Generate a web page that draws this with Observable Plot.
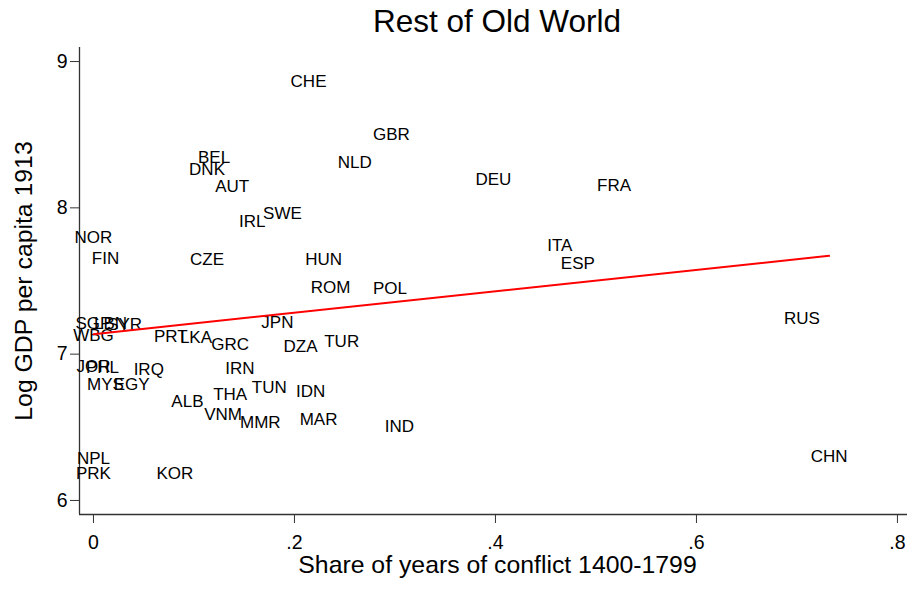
<!DOCTYPE html>
<html><head><meta charset="utf-8">
<script src="https://cdn.jsdelivr.net/npm/d3@7"></script>
<script src="https://cdn.jsdelivr.net/npm/@observablehq/plot@0.6"></script>
<style>
body{margin:0;background:#fff;font-family:"Liberation Sans",Arial,sans-serif;}
#title{height:40px;width:820px;padding-left:87px;text-align:center;font-size:31.5px;line-height:42px;color:#000;}
</style></head><body>
<div id="title">Rest of Old World</div>
<div id="chart"></div>
<script>
const codes = ["CHE","GBR","NLD","DEU","FRA","BEL","DNK","AUT","IRL","SWE","NOR","FIN","CZE","HUN","ITA","ESP","ROM","POL","RUS","CHN","JPN","DZA","TUR","GRC","PRT","LKA","IRN","THA","TUN","IDN","ALB","VNM","MMR","MAR","IND","IRQ","JOR","PHL","MYS","EGY","NPL","PRK","KOR","SGP","LBN","SYR","WBG"];
const conflictShare = [0.214,0.2965,0.260,0.398,0.518,0.120,0.113,0.138,0.158,0.188,0.000,0.012,0.113,0.229,0.464,0.482,0.236,0.295,0.705,0.732,0.183,0.206,0.247,0.136,0.077,0.102,0.1458,0.136,0.175,0.216,0.0935,0.129,0.166,0.224,0.3045,0.055,0.000,0.009,0.012,0.038,0.000,0.000,0.081,0.000,0.017,0.031,0.000];
const logGdp = [8.863,8.501,8.310,8.193,8.152,8.344,8.262,8.146,7.906,7.961,7.797,7.653,7.647,7.647,7.742,7.622,7.458,7.451,7.246,6.300,7.219,7.055,7.089,7.068,7.123,7.116,6.904,6.727,6.774,6.747,6.679,6.589,6.532,6.552,6.505,6.897,6.918,6.910,6.795,6.795,6.286,6.184,6.184,7.212,7.210,7.205,7.130];
const xTicks = [0,0.2,0.4,0.6,0.8];
const yTicks = [6,7,8,9];
const xLabel = "Share of years of conflict 1400-1799";
const yLabel = "Log GDP per capita 1913";

const data = codes.map((c,i)=>({code:c,x:conflictShare[i],y:logGdp[i]}));
const xDomain=[-0.0139,0.81], yDomain=[5.904,9.096];
const font = '"Liberation Sans", Arial, sans-serif';
const plot = Plot.plot({
  width:907, height:552, marginTop:7, marginBottom:78, marginLeft:79, marginRight:0,
  style:{fontFamily:font, background:"white", color:"#000"},
  x:{domain:xDomain}, y:{domain:yDomain},
  marks:[
    Plot.axisX({ticks:xTicks, tickFormat:d=> d===0?"0":d3.format(".1f")(d).replace(/^0/,""), tickSize:9, tickPadding:12, fontSize:19.5, label:null, stroke:"#333"}),
    Plot.axisY({ticks:yTicks, tickFormat:d=>String(d), tickSize:9, tickPadding:3, fontSize:19.5, label:null, stroke:"#333"}),
    Plot.ruleX([xDomain[0]], {stroke:"#333", strokeWidth:1.3}),
    Plot.ruleY([yDomain[0]], {stroke:"#333", strokeWidth:1.3}),
    Plot.text(data,{x:"x",y:"y",text:"code",fontSize:17,fill:"#000"}),
    Plot.linearRegressionY(data,{x:"x",y:"y",stroke:"red",strokeWidth:2,ci:0}),
    Plot.text([xLabel],{frameAnchor:"bottom",dy:58,dx:4,fontSize:24.8,fill:"#000"}),
    Plot.text([yLabel],{frameAnchor:"left",textAnchor:"middle",rotate:-90,dx:-55,fontSize:24.8,fill:"#000"})
  ]
});
document.getElementById("chart").appendChild(plot);
</script>
</body></html>
